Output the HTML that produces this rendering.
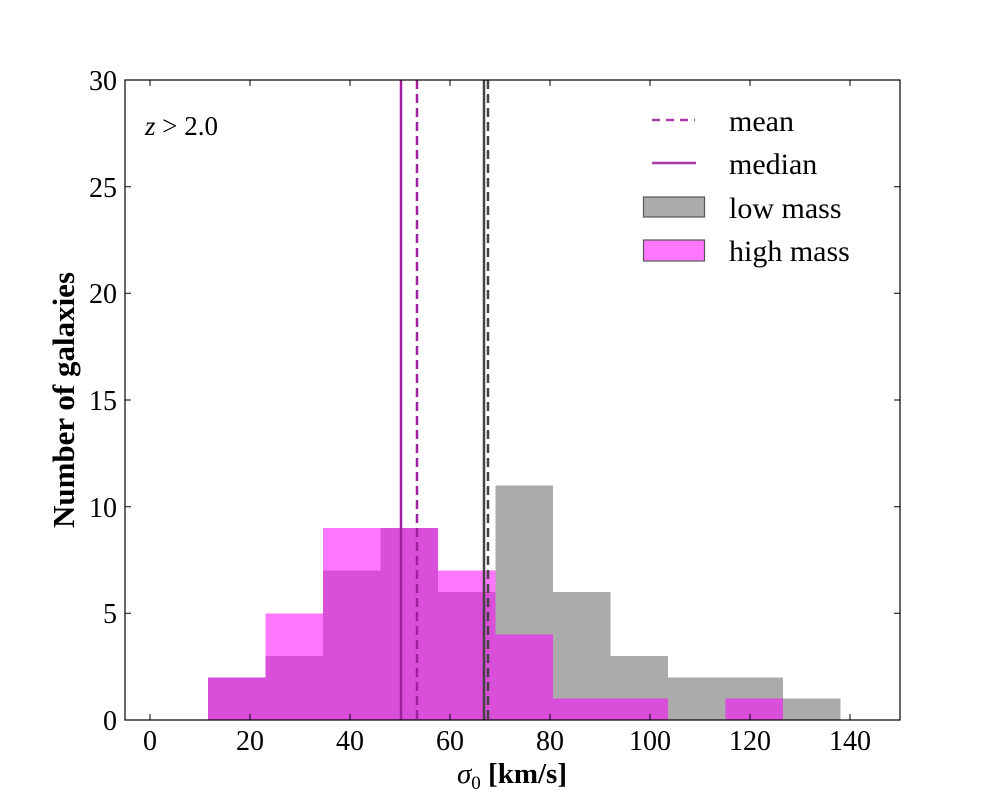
<!DOCTYPE html>
<html><head><meta charset="utf-8"><style>body{margin:0;background:#fff}svg{display:block}text{font-family:"Liberation Serif",serif;fill:#000}</style></head><body>
<svg width="1000" height="800" viewBox="0 0 1000 800">
<rect width="1000" height="800" fill="#fff"/>
<g shape-rendering="crispEdges">
<rect x="495.5" y="485.3" width="57.5" height="234.7" fill="#ababab"/>
<rect x="553" y="592" width="57.5" height="128" fill="#ababab"/>
<rect x="610.5" y="656" width="57.5" height="64" fill="#ababab"/>
<rect x="668" y="677.3" width="57.5" height="42.7" fill="#ababab"/>
<rect x="725.5" y="677.3" width="57.5" height="42.7" fill="#ababab"/>
<rect x="783" y="698.7" width="57.5" height="21.3" fill="#ababab"/>
<rect x="265.5" y="613.3" width="57.5" height="106.7" fill="#ff77ff"/>
<rect x="323" y="528" width="57.5" height="192" fill="#ff77ff"/>
<rect x="438" y="570.7" width="57.5" height="149.3" fill="#ff77ff"/>
<rect x="208" y="677.3" width="57.5" height="42.7" fill="#d94fd9"/>
<rect x="265.5" y="656" width="57.5" height="64" fill="#d94fd9"/>
<rect x="323" y="570.7" width="57.5" height="149.3" fill="#d94fd9"/>
<rect x="380.5" y="528" width="57.5" height="192" fill="#d94fd9"/>
<rect x="438" y="592" width="57.5" height="128" fill="#d94fd9"/>
<rect x="495.5" y="634.7" width="57.5" height="85.3" fill="#d94fd9"/>
<rect x="553" y="698.7" width="57.5" height="21.3" fill="#d94fd9"/>
<rect x="610.5" y="698.7" width="57.5" height="21.3" fill="#d94fd9"/>
<rect x="725.5" y="698.7" width="57.5" height="21.3" fill="#d94fd9"/>
</g>
<line x1="401" y1="80" x2="401" y2="720" stroke="#a020a0" stroke-width="2.5"/>
<line x1="417" y1="80" x2="417" y2="720" stroke="#a020a0" stroke-width="2.5" stroke-dasharray="9,5"/>
<line x1="484" y1="80" x2="484" y2="720" stroke="#444" stroke-width="2.5"/>
<line x1="488" y1="80" x2="488" y2="720" stroke="#444" stroke-width="2.5" stroke-dasharray="9,5"/>
<rect x="125" y="80" width="775" height="640" fill="none" stroke="#000" stroke-width="1.2"/>
<g stroke="#000" stroke-width="1">
<path d="M150 720v-6M250 720v-6M350 720v-6M450 720v-6M550 720v-6M650 720v-6M750 720v-6M850 720v-6M150 80v6M250 80v6M350 80v6M450 80v6M550 80v6M650 80v6M750 80v6M850 80v6"/>
<path d="M125 613.3h6M125 506.7h6M125 400h6M125 293.3h6M125 186.7h6M900 613.3h-6M900 506.7h-6M900 400h-6M900 293.3h-6M900 186.7h-6"/>
</g>
<g font-size="28" text-anchor="middle">
<text x="150" y="750">0</text><text x="250" y="750">20</text><text x="350" y="750">40</text><text x="450" y="750">60</text><text x="550" y="750">80</text><text x="650" y="750">100</text><text x="750" y="750">120</text><text x="850" y="750">140</text>
</g>
<g font-size="28" text-anchor="end">
<text x="117" y="730">0</text><text x="117" y="623">5</text><text x="117" y="517">10</text><text x="117" y="410">15</text><text x="117" y="303">20</text><text x="117" y="197">25</text><text x="117" y="90">30</text>
</g>
<text x="512" y="783" font-size="29" text-anchor="middle"><tspan font-style="italic">σ</tspan><tspan font-size="19" dy="6">0</tspan><tspan dy="-6" font-weight="bold"> [km/s]</tspan></text>
<text transform="translate(74,400) rotate(-90)" font-size="31" font-weight="bold" text-anchor="middle">Number of galaxies</text>
<text x="145" y="135" font-size="27"><tspan font-style="italic">z</tspan> &gt; 2.0</text>
<line x1="652" y1="120" x2="695" y2="120" stroke="#a63aa6" stroke-width="2.5" stroke-dasharray="8,6"/>
<line x1="652" y1="163" x2="696" y2="163" stroke="#a63aa6" stroke-width="2.5"/>
<rect x="643.5" y="197" width="61" height="20" fill="#ababab" stroke="#555" stroke-width="1.2"/>
<rect x="643.5" y="240" width="61" height="21" fill="#ff77ff" stroke="#555" stroke-width="1.2"/>
<g font-size="30">
<text x="729" y="131">mean</text><text x="729" y="174">median</text><text x="729" y="218">low mass</text><text x="729" y="261">high mass</text>
</g>
</svg>
</body></html>
